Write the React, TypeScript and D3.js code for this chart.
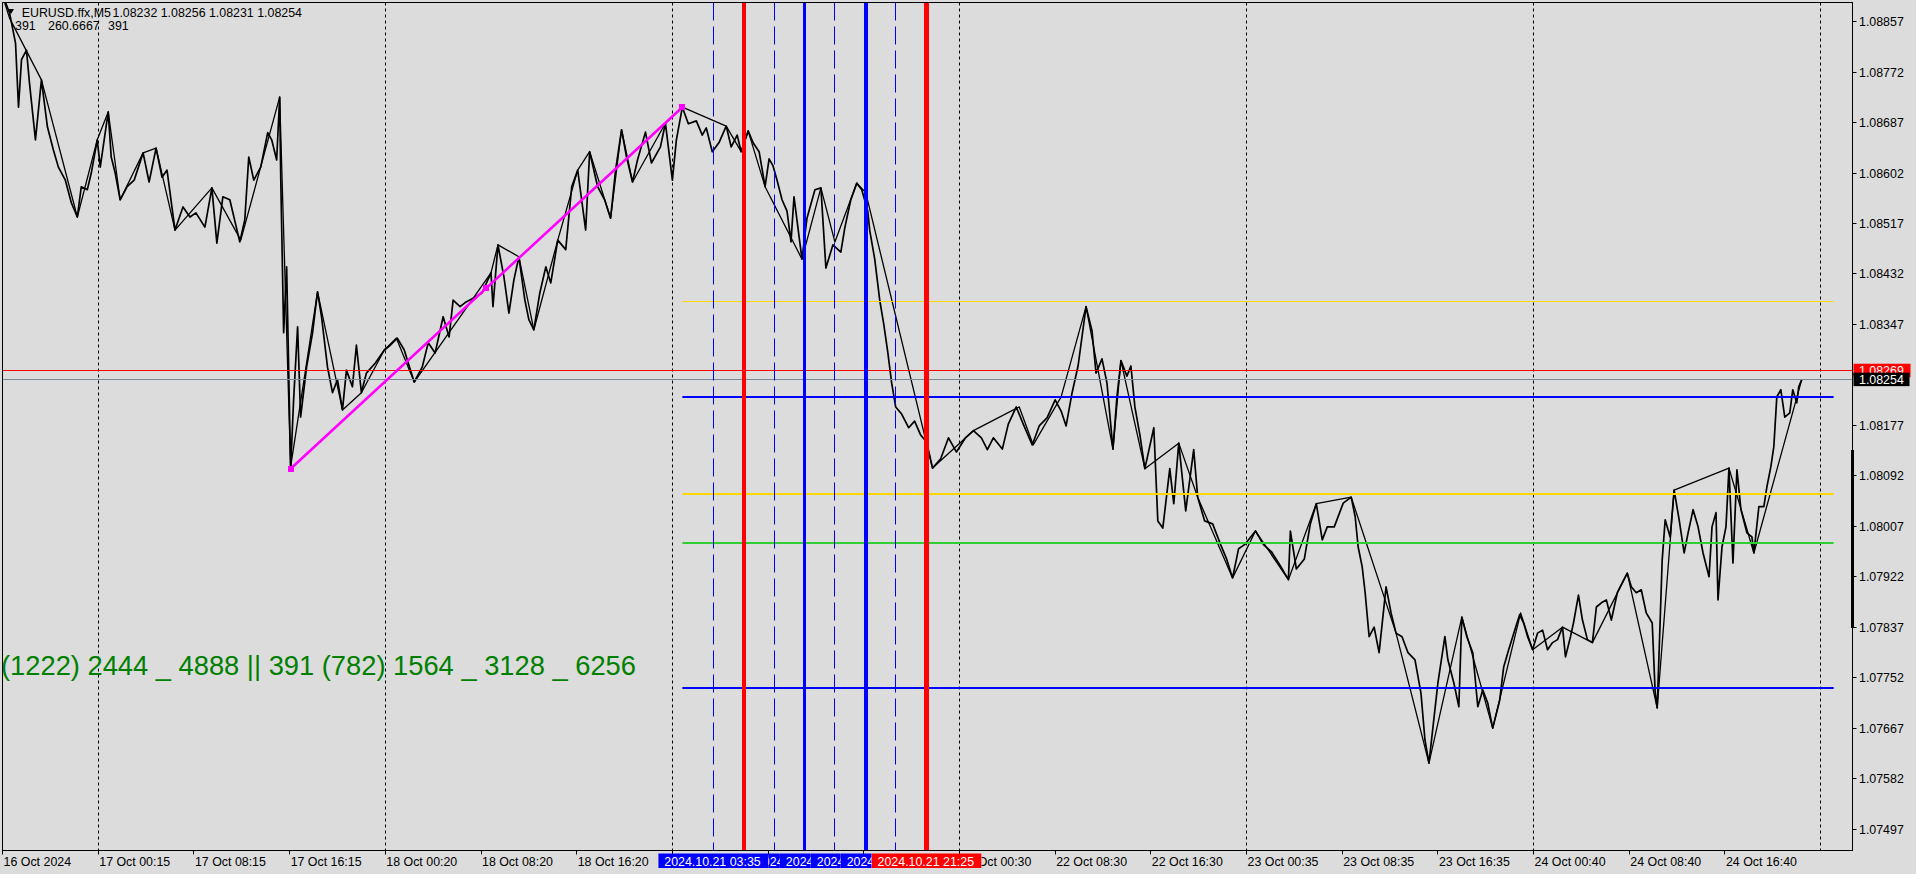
import React from 'react';
import * as d3 from 'd3';

// M5 close line, [bar index, price]
const closeLine: [number, number][] = [
  [0, 1.08902], [7, 1.08872], [13, 1.08821], [16, 1.08713], [19, 1.08793], [24, 1.08809], [27, 1.08754], [33, 1.08658],
  [39, 1.08759], [45, 1.0868], [51, 1.08641], [56, 1.08612], [63, 1.0859], [69, 1.08552], [75, 1.08528], [79, 1.08579],
  [85, 1.08574], [89, 1.08602], [95, 1.08658], [98, 1.08612], [106, 1.08705], [109, 1.08629], [113, 1.08602], [118, 1.08557],
  [125, 1.08579], [132, 1.0859], [141, 1.08636], [147, 1.08587], [154, 1.08644], [160, 1.08595], [165, 1.08607], [173, 1.08506],
  [181, 1.08545], [188, 1.08528], [194, 1.08535], [203, 1.08511], [210, 1.08577], [215, 1.08484], [221, 1.08562], [228, 1.08557],
  [238, 1.08486], [243, 1.08523], [247, 1.08629], [252, 1.0859], [259, 1.08612], [266, 1.0867], [270, 1.08658], [275, 1.08624],
  [278, 1.0873], [279, 1.08602], [282, 1.08333], [285, 1.08444], [289, 1.08104], [292, 1.0822], [296, 1.08343], [299, 1.08191],
  [305, 1.08275], [311, 1.08333], [316, 1.08402], [320, 1.0836], [326, 1.08275], [331, 1.08232], [336, 1.08254], [341, 1.08203],
  [345, 1.0827], [351, 1.08242], [355, 1.08312], [360, 1.08232], [365, 1.08265], [374, 1.08282], [383, 1.08304], [389, 1.08312],
  [396, 1.08324], [403, 1.08304], [407, 1.08282], [413, 1.0825], [421, 1.08275], [427, 1.08316], [434, 1.08299], [442, 1.0836],
  [448, 1.08326], [452, 1.08388], [459, 1.08377], [465, 1.08385], [474, 1.08393], [481, 1.084], [490, 1.08434], [492, 1.08377],
  [497, 1.08481], [503, 1.08427], [508, 1.08366], [513, 1.08422], [518, 1.08461], [524, 1.08388], [528, 1.08355], [533, 1.08338],
  [539, 1.084], [545, 1.08444], [550, 1.08417], [557, 1.08489], [565, 1.08473], [571, 1.08579], [577, 1.08607], [585, 1.08506],
  [589, 1.08638], [597, 1.08579], [604, 1.08557], [610, 1.08526], [615, 1.08607], [621, 1.08675], [626, 1.08629], [632, 1.08587],
  [637, 1.08624], [645, 1.08671], [651, 1.08619], [660, 1.08646], [665, 1.08686], [672, 1.0859], [676, 1.08658], [682, 1.08713],
  [688, 1.08685], [696, 1.0869], [702, 1.08666], [706, 1.08678], [712, 1.08638], [719, 1.08654], [726, 1.08681], [731, 1.08646],
  [737, 1.08666], [741, 1.08638], [748, 1.08673], [753, 1.08653], [759, 1.08638], [765, 1.08579], [769, 1.08626], [773, 1.08614],
  [777, 1.0859], [782, 1.08557], [787, 1.08538], [791, 1.08486], [794, 1.08562], [802, 1.08457], [807, 1.08526], [815, 1.08574],
  [821, 1.08577], [826, 1.08442], [833, 1.08481], [841, 1.08469], [845, 1.0851], [851, 1.08557], [857, 1.08585], [862, 1.08574],
  [868, 1.08538], [870, 1.08505], [875, 1.08457], [880, 1.08388], [884, 1.08348], [888, 1.08301], [892, 1.08248], [896, 1.08208],
  [902, 1.08196], [909, 1.08173], [915, 1.08184], [921, 1.08161], [927, 1.08149], [933, 1.08105], [941, 1.0812], [949, 1.08156],
  [957, 1.08132], [966, 1.08156], [974, 1.08168], [982, 1.08156], [988, 1.08136], [994, 1.08156], [1003, 1.08137], [1009, 1.08179],
  [1017, 1.08208], [1024, 1.08179], [1033, 1.08144], [1040, 1.08176], [1048, 1.0819], [1056, 1.0822], [1062, 1.08201], [1067, 1.08176],
  [1073, 1.08232], [1079, 1.08277], [1087, 1.08377], [1093, 1.08336], [1097, 1.08265], [1103, 1.08289], [1108, 1.08248], [1114, 1.08137],
  [1118, 1.08225], [1122, 1.08286], [1128, 1.0826], [1132, 1.08277], [1136, 1.08208], [1141, 1.08161], [1146, 1.08104], [1155, 1.08173],
  [1159, 1.08016], [1164, 1.08004], [1171, 1.08104], [1175, 1.08045], [1180, 1.08147], [1187, 1.08033], [1195, 1.08136], [1199, 1.08056],
  [1206, 1.08016], [1214, 1.08011], [1222, 1.07976], [1228, 1.07952], [1234, 1.0792], [1240, 1.07969], [1246, 1.07976], [1257, 1.07999],
  [1265, 1.07976], [1273, 1.07964], [1282, 1.0794], [1290, 1.07917], [1292, 1.07999], [1298, 1.07935], [1306, 1.07952], [1312, 1.08011],
  [1318, 1.08045], [1324, 1.07984], [1329, 1.08006], [1336, 1.08006], [1345, 1.08046], [1353, 1.08056], [1357, 1.08023], [1360, 1.07972],
  [1364, 1.07939], [1367, 1.07895], [1371, 1.07821], [1376, 1.07837], [1381, 1.07794], [1388, 1.07905], [1393, 1.07861], [1398, 1.07827],
  [1404, 1.07821], [1410, 1.07794], [1417, 1.07782], [1423, 1.07726], [1427, 1.07647], [1431, 1.07608], [1437, 1.07698], [1440, 1.07743],
  [1447, 1.07821], [1450, 1.07782], [1456, 1.07743], [1461, 1.07703], [1464, 1.07854], [1469, 1.07821], [1475, 1.07794], [1480, 1.07703],
  [1485, 1.07731], [1490, 1.07709], [1495, 1.07667], [1502, 1.07714], [1506, 1.0777], [1511, 1.07799], [1518, 1.07837], [1522, 1.07858],
  [1526, 1.07844], [1530, 1.07821], [1535, 1.07799], [1540, 1.07827], [1545, 1.07832], [1550, 1.07799], [1555, 1.07811], [1560, 1.07816],
  [1565, 1.07837], [1568, 1.07787], [1573, 1.07821], [1576, 1.07844], [1581, 1.07891], [1585, 1.07849], [1590, 1.07816], [1595, 1.07811],
  [1599, 1.07871], [1604, 1.07878], [1609, 1.07883], [1614, 1.07849], [1620, 1.07895], [1625, 1.07912], [1630, 1.07928], [1634, 1.07905],
  [1639, 1.07895], [1644, 1.079], [1649, 1.07861], [1655, 1.07844], [1658, 1.07726], [1660, 1.07701], [1662, 1.07799], [1665, 1.0795],
  [1668, 1.08018], [1673, 1.07989], [1677, 1.08068], [1682, 1.08018], [1687, 1.07962], [1691, 1.07996], [1696, 1.08035], [1701, 1.08006],
  [1706, 1.07962], [1712, 1.07922], [1715, 1.08006], [1719, 1.0803], [1721, 1.07883], [1725, 1.07972], [1729, 1.08006], [1732, 1.08105],
  [1736, 1.07945], [1740, 1.08102], [1744, 1.08035], [1750, 1.07996], [1755, 1.07989], [1757, 1.07962], [1762, 1.0804], [1767, 1.0804],
  [1770, 1.08073], [1774, 1.08107], [1777, 1.08141], [1780, 1.08225], [1784, 1.08237], [1788, 1.08191], [1793, 1.08198], [1796, 1.08237],
  [1800, 1.08215], [1802, 1.08242], [1805, 1.08254],
];

// second (higher timeframe) close line drawn over it
const swingLine: [number, number][] = [
  [0, 1.089], [7, 1.08863], [39, 1.08759], [75, 1.08528], [95, 1.08658], [106, 1.08705], [118, 1.08557], [141, 1.08636],
  [154, 1.08644], [173, 1.08506], [210, 1.08577], [239, 1.08489], [278, 1.0873], [289, 1.08107], [316, 1.08402], [341, 1.08203],
  [360, 1.08232], [383, 1.08304], [395, 1.08324], [413, 1.0825], [490, 1.08434], [497, 1.08481], [518, 1.08461], [533, 1.08338],
  [557, 1.08489], [577, 1.08607], [589, 1.08638], [610, 1.08526], [621, 1.08675], [632, 1.08587], [665, 1.08686], [682, 1.08713],
  [726, 1.08681], [741, 1.08638], [748, 1.08673], [765, 1.08579], [802, 1.08457], [821, 1.08577], [835, 1.08486], [857, 1.08585],
  [866, 1.08569], [933, 1.08105], [974, 1.08168], [1020, 1.08208], [1034, 1.08144], [1062, 1.08225], [1087, 1.08377], [1114, 1.08137],
  [1122, 1.08286], [1146, 1.08104], [1180, 1.08147], [1199, 1.08056], [1234, 1.0792], [1257, 1.07999], [1290, 1.07917], [1318, 1.08045],
  [1353, 1.08056], [1398, 1.07827], [1431, 1.07608], [1464, 1.07854], [1495, 1.07667], [1523, 1.07861], [1535, 1.07799], [1565, 1.07837],
  [1595, 1.07811], [1630, 1.07928], [1660, 1.07701], [1677, 1.08068], [1732, 1.08105], [1757, 1.07962], [1805, 1.08254],
];

const trendStart: [number, number] = [289, 1.08104];
const trendEnd: [number, number] = [682, 1.08713];

const levelPrices = [1.08385, 1.08224, 1.08062, 1.07979, 1.07735];
const levelBars = [682, 1837];

const markerBars = [713, 744, 774, 805, 835, 866, 896, 927];
const markerTimes = [
  '2024.10.21 03:35', '2024.10.21 06:10', '2024.10.21 08:40', '2024.10.21 11:15',
  '2024.10.21 13:45', '2024.10.21 16:20', '2024.10.21 18:50', '2024.10.21 21:25',
];

const priceTicks = [
  1.08857, 1.08772, 1.08687, 1.08602, 1.08517, 1.08432, 1.08347, 1.08262, 1.08177,
  1.08092, 1.08007, 1.07922, 1.07837, 1.07752, 1.07667, 1.07582, 1.07497,
];

const timeLabels = [
  '16 Oct 2024', '17 Oct 00:15', '17 Oct 08:15', '17 Oct 16:15', '18 Oct 00:20', '18 Oct 08:20', '18 Oct 16:20',
  '21 Oct 00:25', '21 Oct 08:25', '21 Oct 16:25', '22 Oct 00:30', '22 Oct 08:30', '22 Oct 16:30', '23 Oct 00:35',
  '23 Oct 08:35', '23 Oct 16:35', '24 Oct 00:40', '24 Oct 08:40', '24 Oct 16:40',
];
const barsPerLabel = 96;
const gridEvery = 3;

const askPrice = 1.08269;
const bidPrice = 1.08254;

const symbolText = 'EURUSD.ffx,M5';
const ohlcText = '1.08232 1.08256 1.08231 1.08254';
const infoValues = ['391', '260.6667', '391'];
const counterText = '(1222) 2444 _ 4888 || 391 (782) 1564 _ 3128 _ 6256';

// ---- layout ----
const W = 1916;
const H = 874;
const L = 2.5, T = 2.5, R = 1852.5, B = 850.5;
const FONT_NAME = '"Liberation Sans", Arial, sans-serif';
const FS = 12.4;
const BOX_W = 110;

const levelColors = ['#FFD700', '#0000FF', '#FFD700', '#32CD32', '#0000FF'];
const levelWidths = [1, 2, 2, 2, 2];
const markerColors = ['#0000FF', '#FF0000', '#0000FF', '#0000FF', '#0000FF', '#0000FF', '#0000FF', '#FF0000'];
const markerWidths = [1, 4, 1, 3, 1, 4, 1, 5];
const markerDashed = [true, false, true, false, true, false, true, false];
const labelOrder = [1, 2, 3, 4, 5, 6, 7, 0]; // z-order of the time-axis tags

// crisp pixel position for a line of given width
const crisp = (v: number, w: number) => (w % 2 === 1 ? Math.round(v - 0.5) + 0.5 : Math.round(v));

let ctx: CanvasRenderingContext2D | null = null;
function textWidth(s: string) {
  if (!ctx) {
    ctx = document.createElement('canvas').getContext('2d');
    if (ctx) ctx.font = `${FS}px "Liberation Sans", Arial, sans-serif`;
  }
  return ctx ? ctx.measureText(s).width : s.length * 6.9;
}

// part of a label (drawn from x0) that shows between lo and hi
function visiblePart(s: string, x0: number, lo: number, hi: number) {
  let first = -1, last = -1;
  for (let i = 0; i < s.length; i++) {
    const a = x0 + textWidth(s.slice(0, i));
    const b = x0 + textWidth(s.slice(0, i + 1));
    if (b > lo + 1 && a < hi - 1 && s[i] !== ' ') {
      if (first < 0) first = i;
      last = i;
    }
  }
  if (first < 0) return null;
  return { text: s.slice(first, last + 1), x: x0 + textWidth(s.slice(0, first)) };
}

export default function App() {
  const x = d3.scaleLinear().domain([0, barsPerLabel]).range([2.56, 98.25]);
  const y = d3.scaleLinear().domain([1.07497, 1.08857]).range([829, 21.7]);

  const line = d3.line<[number, number]>().x(d => x(d[0])).y(d => y(d[1]));

  const tickBars = timeLabels.map((_, i) => i * barsPerLabel);
  const gridBars = d3.range(1, 20, gridEvery).map(i => i * barsPerLabel);

  const midBar = (trendStart[0] + trendEnd[0]) / 2;
  const midPrice = (trendStart[1] + trendEnd[1]) / 2;

  // time-axis tag boxes and which part of each stays uncovered
  const boxLeft = (i: number) => x(markerBars[i]) - BOX_W / 2;
  const tags = labelOrder.map((i, k) => {
    const later = labelOrder.slice(k + 1);
    let lo = boxLeft(i), hi = boxLeft(i) + BOX_W;
    later.forEach(j => {
      const l = boxLeft(j), r = l + BOX_W;
      if (l > boxLeft(i) && l < hi) hi = l;
      if (l <= boxLeft(i) && r > lo) lo = r;
    });
    const part = lo < hi ? visiblePart(markerTimes[i], boxLeft(i) + 6, lo, hi) : null;
    return { i, lo, hi, part };
  });
  const tagSpans = markerBars.map((_, i) => [boxLeft(i), boxLeft(i) + BOX_W]);
  const coverLo = d3.min(tagSpans, s => s[0]) as number;
  const coverHi = d3.max(tagSpans, s => s[1]) as number;

  const askTop = y(askPrice) - 7;
  const bidBottom = y(bidPrice) + 6.5;

  return (
    <div style={{ position: 'absolute', left: 0, top: 0, width: W, height: H, background: '#DCDCDC' }}>
      <svg width={W} height={H} style={{ display: 'block', fontFamily: FONT_NAME }}>
        <defs>
          <clipPath id="plot">
            <rect x={L} y={T} width={R - L} height={B - T} />
          </clipPath>
          {tags.map(t => (
            <clipPath key={t.i} id={`tag${t.i}`}>
              <rect x={t.lo} y={850} width={Math.max(0, t.hi - t.lo)} height={24} />
            </clipPath>
          ))}
          <clipPath id="axisFree">
            <rect x={coverHi} y={850} width={W - coverHi} height={24} />
          </clipPath>
        </defs>
        <rect x={0} y={0} width={W} height={H} fill="#DCDCDC" />

        <g clipPath="url(#plot)">
          {/* grid */}
          {gridBars.map(b => (
            <line key={b} x1={crisp(x(b), 1)} x2={crisp(x(b), 1)} y1={T} y2={B}
              stroke="#000" strokeWidth={1} strokeDasharray="3 3" />
          ))}

          {/* price lines */}
          <path d={line(closeLine) ?? ''} fill="none" stroke="#000" strokeWidth={1.7} strokeLinejoin="round" />
          <path d={line(swingLine) ?? ''} fill="none" stroke="#000" strokeWidth={1.3} strokeLinejoin="round" />

          {/* ask / bid */}
          <line x1={L} x2={R} y1={crisp(y(askPrice), 1)} y2={crisp(y(askPrice), 1)} stroke="#FF0000" strokeWidth={1} />
          <line x1={L} x2={R} y1={crisp(y(bidPrice), 1)} y2={crisp(y(bidPrice), 1)} stroke="#778899" strokeWidth={1} />

          {/* levels */}
          {levelPrices.map((p, i) => (
            <line key={p} x1={x(levelBars[0])} x2={x(levelBars[1])}
              y1={crisp(y(p), levelWidths[i])} y2={crisp(y(p), levelWidths[i])}
              stroke={levelColors[i]} strokeWidth={levelWidths[i]} />
          ))}

          {/* vertical markers */}
          {markerBars.map((b, i) => (
            <line key={b} x1={crisp(x(b), markerWidths[i])} x2={crisp(x(b), markerWidths[i])} y1={T} y2={B}
              stroke={markerColors[i]} strokeWidth={markerWidths[i]}
              strokeDasharray={markerDashed[i] ? '18 6' : undefined} />
          ))}

          {/* trend line */}
          <line x1={x(trendStart[0])} y1={y(trendStart[1])} x2={x(trendEnd[0])} y2={y(trendEnd[1])}
            stroke="#FF00FF" strokeWidth={2.6} />
          {[[trendStart[0], trendStart[1]], [midBar, midPrice], [trendEnd[0], trendEnd[1]]].map(([b, p], i) => (
            <rect key={i} x={Math.round(x(b)) - 3} y={Math.round(y(p)) - 3} width={6} height={6} fill="#FF00FF" />
          ))}

          <text x={1} y={675} fontSize={27.3} fill="#008000">{counterText}</text>
        </g>

        {/* header */}
        <path d="M8,9 L14,9 L11,14 Z" fill="#000" />
        <text x={21.7} y={17} fontSize={FS} fill="#000">{symbolText}</text>
        <text x={112.5} y={17} fontSize={FS} fill="#000">{ohlcText}</text>
        {infoValues.map((v, i) => (
          <text key={i} x={[15, 48, 108][i]} y={29.5} fontSize={FS} fill="#000">{v}</text>
        ))}

        {/* frame */}
        <rect x={L} y={T} width={R - L} height={B - T} fill="none" stroke="#000" strokeWidth={1} />
        <rect x={R - 1.5} y={450} width={3} height={178} fill="#000" />

        {/* price axis */}
        {priceTicks.map(p => (
          <g key={p}>
            <line x1={R} x2={R + 4} y1={crisp(y(p), 1)} y2={crisp(y(p), 1)} stroke="#000" />
            {(y(p) < askTop - 4 || y(p) > bidBottom + 4) && (
              <text x={1859} y={y(p) + 4.5} fontSize={FS} fill="#000">{p.toFixed(5)}</text>
            )}
          </g>
        ))}
        <rect x={R + 1} y={askTop} width={57} height={13.5} fill="#FF0000" />
        <text x={1859} y={y(askPrice) + 4.5} fontSize={FS} fill="#fff">{askPrice.toFixed(5)}</text>
        <rect x={R + 1} y={y(bidPrice) - 7} width={56} height={13.5} fill="#000" />
        <text x={1859} y={y(bidPrice) + 4.5} fontSize={FS} fill="#fff">{bidPrice.toFixed(5)}</text>

        {/* time axis */}
        {tickBars.map((b, i) => {
          const x0 = x(b) + 1;
          const w = textWidth(timeLabels[i]);
          const covered = x0 < coverHi && x0 + w > coverLo;
          const part = covered ? visiblePart(timeLabels[i], x0, coverHi, W) : { text: timeLabels[i], x: x0 };
          return (
            <g key={b}>
              <line x1={crisp(x(b), 1)} x2={crisp(x(b), 1)} y1={B} y2={B + 4} stroke="#000" />
              {part && (
                <text x={part.x} y={866} fontSize={FS} fill="#000" clipPath={covered ? 'url(#axisFree)' : undefined}>
                  {part.text}
                </text>
              )}
            </g>
          );
        })}
        {tags.map(t => (
          <rect key={`b${t.i}`} x={boxLeft(t.i)} y={853.5} width={BOX_W} height={14.5} fill={markerColors[t.i]}
            clipPath={`url(#tag${t.i})`} />
        ))}
        {tags.map(t => t.part && (
          <text key={`t${t.i}`} x={t.part.x} y={865.5} fontSize={FS} fill="#fff" clipPath={`url(#tag${t.i})`}>
            {t.part.text}
          </text>
        ))}
      </svg>
    </div>
  );
}
